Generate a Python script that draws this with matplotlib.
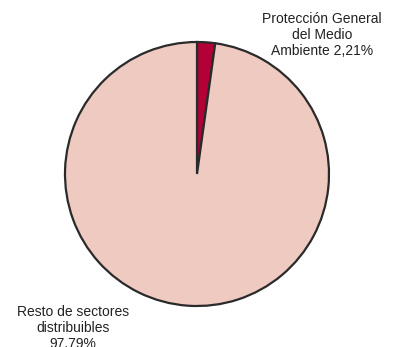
import matplotlib.pyplot as plt

labels = ['Protección General\ndel Medio\nAmbiente 2,21%', 'Resto de sectores\ndistribuibles\n97.79%']
values = [2.21, 97.79]
colors = ['#b30036', '#efcac1']

W, H = 396, 347
fig = plt.figure(figsize=(W / 100, H / 100), dpi=100)
cx, cy, r = 197, 174, 132
pad = 1.03
R = r * pad
ax = fig.add_axes([(cx - R) / W, (H - cy - R) / H, 2 * R / W, 2 * R / H])
ax.pie(values, colors=colors, startangle=90, counterclock=False, radius=1,
       wedgeprops={'edgecolor': '#2a2a2a', 'linewidth': 1.6})
ax.set_xlim(-pad, pad)
ax.set_ylim(-pad, pad)
ax.set_aspect('equal')
ax.axis('off')

fig.text(322 / W, 1 - 12 / H, labels[0], ha='center', va='top', fontsize=10,
         family='Liberation Sans', linespacing=1.2, color='#222222')
fig.text(73 / W, 1 - 305 / H, labels[1], ha='center', va='top', fontsize=10,
         family='Liberation Sans', linespacing=1.2, color='#222222')

fig.savefig('out.png', dpi=100)
